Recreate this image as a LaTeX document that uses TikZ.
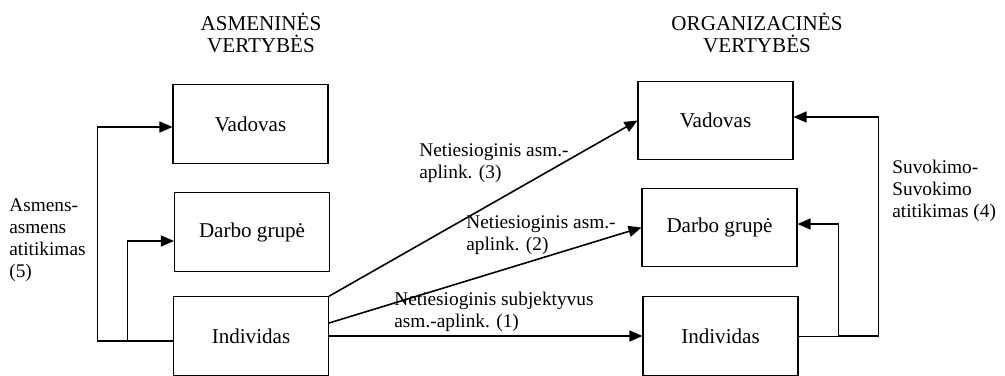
\documentclass[tikz,border=0pt]{standalone}
\usepackage{fontspec}
\setmainfont{Liberation Serif}
\usetikzlibrary{positioning,arrows.meta}

\begin{document}
\begin{tikzpicture}[
  every node/.style={font=\fontsize{12}{12.7}\selectfont},
  box/.style={draw,line width=0.6pt,minimum width=31mm,minimum height=15.7mm,inner sep=2pt},
  lbl/.style={align=left,anchor=west,inner sep=0pt,font=\fontsize{11}{12.5}\selectfont},
  arrow/.style={-{Triangle[length=2.6mm,width=2.2mm]},line width=0.9pt}
]
  \useasboundingbox (0,0) rectangle (20.1,7.5);
  % column headers
  \node[align=center] (hl) at (5.22,6.84) {ASMENINĖS\\VERTYBĖS};
  \node[align=center] (hr) at (15.14,6.84) {ORGANIZACINĖS\\VERTYBĖS};
  % personal values
  \node[box] (lv) at (5.01,5.02) {Vadovas};
  \node[box] (ld) at (5.04,2.86) {Darbo grupė};
  \node[box] (li) at (5.02,0.78) {Individas};
  % organizational values
  \node[box] (rv) at (14.31,5.09) {Vadovas};
  \node[box] (rd) at (14.39,2.95) {Darbo grupė};
  \node[box] (ri) at (14.41,0.78) {Individas};
  % indirect fits
  \draw[arrow] (li.north east) -- (rv.west);
  \draw[arrow] ([yshift=0.26cm]li.east) -- (rd.west);
  \draw[arrow] (li.east) -- (ri.west);
  \node[lbl] (l3) at (8.38,4.24) {Netiesioginis asm.-\\aplink. (3)};
  \node[lbl] (l2) at (9.32,2.80) {Netiesioginis asm.-\\aplink. (2)};
  \node[lbl] (l1) at (7.88,1.26) {Netiesioginis subjektyvus\\asm.-aplink. (1)};
  % person-person fit
  \draw[arrow] ([yshift=-0.10cm]li.west) -- ++(-1.51,0) |- ([yshift=-0.06cm]lv.west);
  \draw[arrow] ([xshift=-0.91cm,yshift=-0.10cm]li.west) |- ([yshift=-0.18cm]ld.west);
  \node[lbl] (l5) at (0.18,2.70) {Asmens-\\asmens\\atitikimas\\(5)};
  % perception-perception fit
  \draw[line width=0.5pt] (ri.east) -- ++(0.8,0);
  \draw[arrow] ([xshift=0.8cm]ri.east) -- ++(0.8,0) |- ([yshift=0.07cm]rv.east);
  \draw[arrow] ([xshift=0.8cm]ri.east) |- ([yshift=0.07cm]rd.east);
  \node[lbl] (l4) at (17.84,3.68) {Suvokimo-\\Suvokimo\\atitikimas (4)};
\end{tikzpicture}
\end{document}
